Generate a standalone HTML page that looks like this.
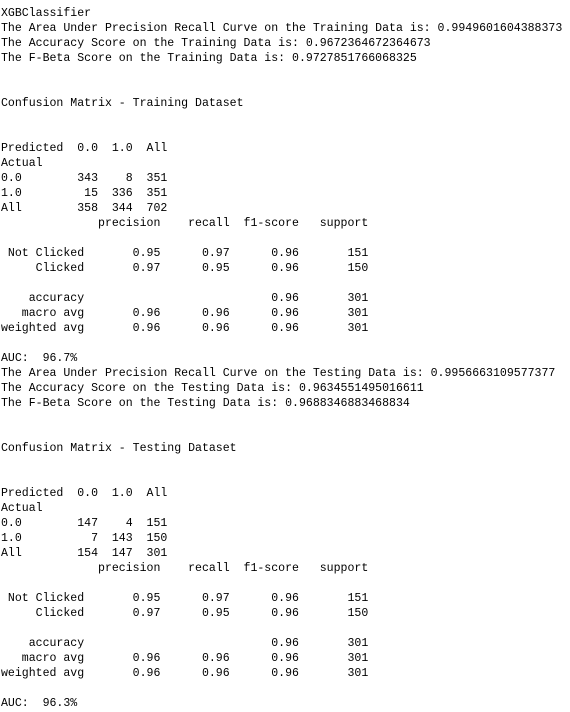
<!DOCTYPE html>
<html><head><meta charset="utf-8"><style>
html,body{margin:0;padding:0;background:#fff;width:570px;height:712px;overflow:hidden}
pre{margin:0;padding:6px 0 0 1px;font-family:"Liberation Mono",monospace;font-size:11.56px;line-height:15px;color:#000}
</style></head><body>
<pre>XGBClassifier
The Area Under Precision Recall Curve on the Training Data is: 0.9949601604388373
The Accuracy Score on the Training Data is: 0.9672364672364673
The F-Beta Score on the Training Data is: 0.9727851766068325


Confusion Matrix - Training Dataset


Predicted  0.0  1.0  All
Actual                  
0.0        343    8  351
1.0         15  336  351
All        358  344  702
              precision    recall  f1-score   support

 Not Clicked       0.95      0.97      0.96       151
     Clicked       0.97      0.95      0.96       150

    accuracy                           0.96       301
   macro avg       0.96      0.96      0.96       301
weighted avg       0.96      0.96      0.96       301

AUC:  96.7%
The Area Under Precision Recall Curve on the Testing Data is: 0.9956663109577377
The Accuracy Score on the Testing Data is: 0.9634551495016611
The F-Beta Score on the Testing Data is: 0.9688346883468834


Confusion Matrix - Testing Dataset


Predicted  0.0  1.0  All
Actual                  
0.0        147    4  151
1.0          7  143  150
All        154  147  301
              precision    recall  f1-score   support

 Not Clicked       0.95      0.97      0.96       151
     Clicked       0.97      0.95      0.96       150

    accuracy                           0.96       301
   macro avg       0.96      0.96      0.96       301
weighted avg       0.96      0.96      0.96       301

AUC:  96.3%</pre>
</body></html>
